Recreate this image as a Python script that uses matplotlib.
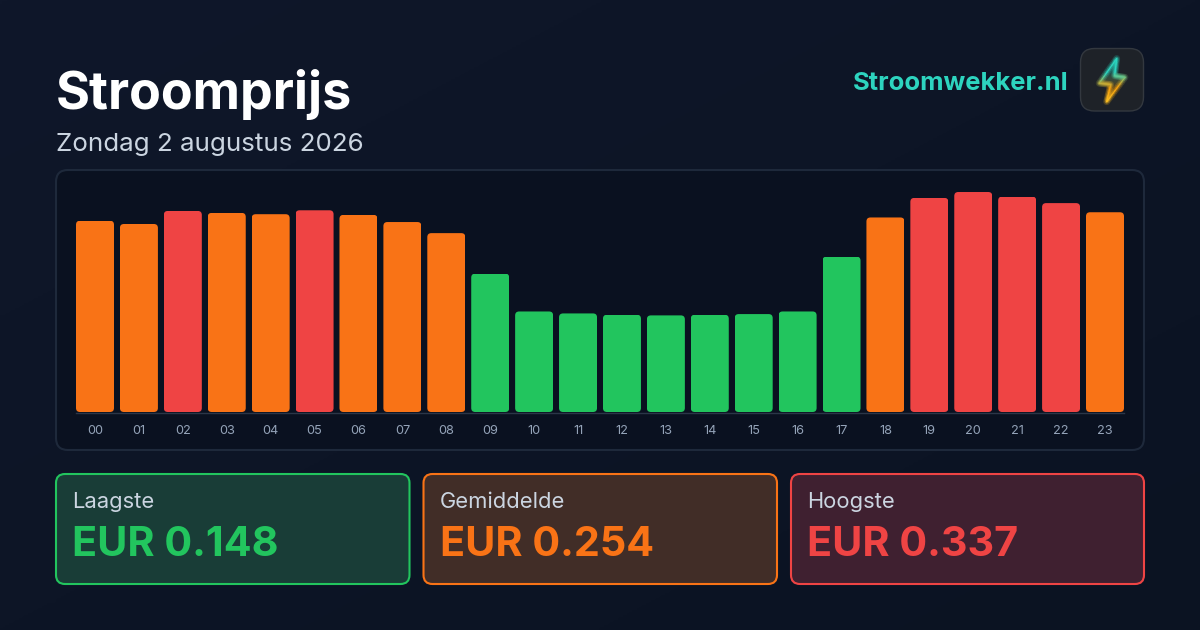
import numpy as np
import matplotlib
matplotlib.use('Agg')
import matplotlib.pyplot as plt
from matplotlib.patches import FancyBboxPatch, Polygon
from matplotlib.colors import LinearSegmentedColormap

hours = ['00', '01', '02', '03', '04', '05', '06', '07', '08', '09', '10', '11',
         '12', '13', '14', '15', '16', '17', '18', '19', '20', '21', '22', '23']
prices = [0.293, 0.288, 0.308, 0.305, 0.303, 0.309, 0.302, 0.291, 0.274, 0.212, 0.154, 0.151,
          0.149, 0.148, 0.149, 0.150, 0.154, 0.238, 0.298, 0.328, 0.337, 0.330, 0.320, 0.306]
levels = ['o', 'o', 'r', 'o', 'o', 'r', 'o', 'o', 'o', 'g', 'g', 'g',
          'g', 'g', 'g', 'g', 'g', 'g', 'o', 'r', 'r', 'r', 'r', 'o']
card_labels = ['Laagste', 'Gemiddelde', 'Hoogste']
card_values = ['EUR 0.148', 'EUR 0.254', 'EUR 0.337']

GREEN = '#22c55e'
ORANGE = '#f97316'
RED = '#ef4444'
level_colors = {'g': GREEN, 'o': ORANGE, 'r': RED}

plt.rcParams['font.family'] = ['Inter', 'DejaVu Sans']

W, H = 1200, 630
fig = plt.figure(figsize=(W / 100, H / 100), dpi=100)

# background layer in pixel coordinates
bg = fig.add_axes([0, 0, 1, 1])
bg.axis('off')
grad = np.linspace(0, 1, 256).reshape(-1, 1) + np.linspace(0, 1, 256).reshape(1, -1)
bg_cmap = LinearSegmentedColormap.from_list('bg', ['#0f172a', '#0b1322'])
bg.imshow(grad, extent=(0, W, H, 0), cmap=bg_cmap, aspect='auto', zorder=0)


def rbox(x0, y0, x1, y1, r, fc, ec, lw, z=1):
    p = FancyBboxPatch((x0, y0), x1 - x0, y1 - y0, boxstyle=f'round,pad=0,rounding_size={r}',
                       fc=fc, ec=ec, lw=lw, zorder=z)
    bg.add_patch(p)
    return p


bg.text(56, 94, 'Stroomprijs', color='white', fontsize=37.4, fontweight='bold', va='center', ha='left')
bg.text(56, 145, 'Zondag 2 augustus 2026', color='#cbd5e1', fontsize=18.7, va='center', ha='left')
bg.text(1068, 83, 'Stroomwekker.nl', color='#2dd4bf', fontsize=18.45, fontweight='bold', va='center', ha='right')

# logo
rbox(1080.5, 48.5, 1143.5, 111, 14, '#1e2228', '#33383f', 1)
bolt = np.array([[1116.7, 58.5], [1099.2, 83.2], [1110.7, 84.5], [1106.7, 101.7], [1125, 77.3], [1114.6, 75.8], [1116.7, 58.5]])
bolt_cmap = LinearSegmentedColormap.from_list('bolt', ['#2dd4bf', '#2dd4bf', '#f59e0b', '#fbbf24'])
fill = bg.imshow(np.linspace(0, 1, 64).reshape(-1, 1), extent=(1095, 1130, 104, 56), cmap=bolt_cmap,
                 aspect='auto', alpha=0.25, zorder=3)
fill.set_clip_path(Polygon(bolt, transform=bg.transData))
for i in range(len(bolt) - 1):
    n = 12
    xs = np.linspace(bolt[i, 0], bolt[i + 1, 0], n)
    ys = np.linspace(bolt[i, 1], bolt[i + 1, 1], n)
    for j in range(n - 1):
        c = bolt_cmap((ys[j] - 58) / 44)
        bg.plot(xs[j:j + 2], ys[j:j + 2], color=c, lw=5, alpha=0.1, zorder=3, solid_capstyle='round')
        bg.plot(xs[j:j + 2], ys[j:j + 2], color=c, lw=2.8, alpha=0.22, zorder=3, solid_capstyle='round')
        bg.plot(xs[j:j + 2], ys[j:j + 2], color=c, lw=0.9, zorder=4, solid_capstyle='round')

# chart panel
rbox(56, 170, 1144, 450, 12, '#0a1120', '#1e293b', 1.5)
bg.plot([76, 1124], [412.5, 412.5], color='#2b3648', lw=1, zorder=2)

# cards
card_boxes = [(56, 409.5), (423.5, 777), (791, 1144)]
card_fills = ['#193d37', '#412d27', '#3f2030']
card_edges = [GREEN, ORANGE, RED]
for (x0, x1), fc, ec, lab, val in zip(card_boxes, card_fills, card_edges, card_labels, card_values):
    rbox(x0, 474, x1, 584, 9, fc, ec, 1.5)
    bg.text(x0 + 16, 502, lab, color='#cbd5e1', fontsize=15.8, va='center', ha='left', zorder=3)
    bg.text(x0 + 16, 544.5, val, color=ec, fontsize=29.75, fontweight='bold', va='center', ha='left', zorder=3)

bg.set_xlim(0, W)
bg.set_ylim(H, 0)

# bars
x = np.arange(len(hours))
pitch = (1124 - 76 - 38) / 23
ax = fig.add_axes([76 / W, 1 - 412 / H, (1124 - 76) / W, 230 / H])
ax.patch.set_alpha(0)
ax.set_xlim(-19 / pitch, 23 + 19 / pitch)
ax.set_ylim(0, 230 / 652.8)
bars = ax.bar(x, prices, width=38 / pitch, color=[level_colors[l] for l in levels], linewidth=0)
aspect = (1 / 652.8) / (1 / pitch)
for b in bars:
    clip = FancyBboxPatch((b.get_x(), 0), b.get_width(), b.get_height(),
                          boxstyle=f'round,pad=0,rounding_size={4 / pitch}',
                          mutation_aspect=aspect, transform=ax.transData)
    b.set_clip_path(clip)
for s in ax.spines.values():
    s.set_visible(False)
ax.set_yticks([])
ax.set_xticks(x)
ax.set_xticklabels(hours)
ax.tick_params(axis='x', length=0, pad=9.5, labelsize=9.2, labelcolor='#94a3b8')

fig.savefig('out.png', dpi=100)
